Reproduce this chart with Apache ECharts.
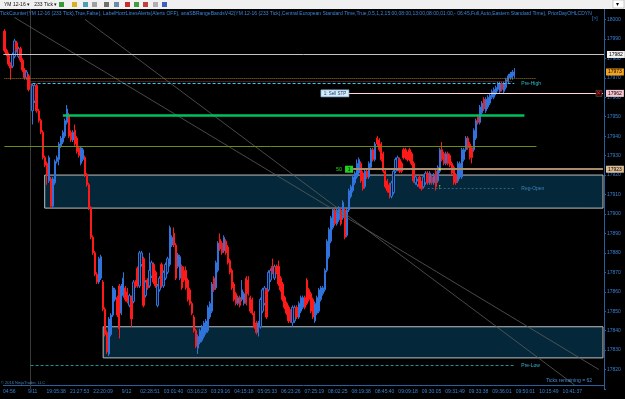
<!DOCTYPE html>
<html lang="en">
<head>
<meta charset="UTF-8">
<title>YM 12-16 (233 Tick)</title>
<script src="https://cdn.jsdelivr.net/npm/echarts@6/dist/echarts.min.js"></script>
<style>
    html, body { margin: 0; padding: 0; background: #000; }
    #chart { width: 625px; height: 399px; }
</style>
</head>
<body>
<div id="chart"></div>
<script>
// time axis labels
var tickLabels = ['04:56', '9/11', '19:05:38', '21:27:53', '22:20:09', '9/12', '02:28:51', '03:01:40',
    '03:16:23', '03:29:16', '04:15:18', '05:05:33', '06:23:26', '07:25:19', '08:02:25', '08:19:38',
    '08:45:40', '09:09:18', '09:30:05', '09:31:49', '09:33:38', '09:36:01', '09:50:01', '10:15:49', '10:41:37'];

// 233 tick bars, YM 12-16
var opens = [
    17994, 17984, 17982, 17977, 17976, 17981, 17988, 17981, 17985, 17979,
    17974, 17970, 17971, 17967, 17953, 17958, 17966, 17953, 17948, 17942,
    17929, 17926, 17917, 17918, 17904, 17916, 17927, 17928, 17935, 17937,
    17940, 17947, 17951, 17942, 17938, 17943, 17939, 17934, 17926, 17928,
    17929, 17920, 17915, 17903, 17888, 17880, 17869, 17865, 17867, 17865,
    17851, 17839, 17828, 17838, 17848, 17856, 17857, 17863, 17849, 17858,
    17862, 17860, 17853, 17857, 17855, 17865, 17872, 17863, 17874, 17877,
    17858, 17866, 17863, 17868, 17874, 17870, 17853, 17861, 17874, 17863,
    17867, 17870, 17874, 17884, 17890, 17884, 17873, 17867, 17873, 17871,
    17871, 17866, 17861, 17854, 17847, 17840, 17831, 17834, 17835, 17837,
    17839, 17840, 17847, 17850, 17867, 17862, 17871, 17887, 17885, 17881,
    17886, 17883, 17876, 17871, 17864, 17859, 17854, 17857, 17856, 17854,
    17867, 17866, 17857, 17856, 17849, 17844, 17839, 17842, 17850, 17854,
    17861, 17861, 17866, 17873, 17867, 17873, 17873, 17867, 17864, 17857,
    17854, 17852, 17850, 17844, 17845, 17852, 17847, 17850, 17852, 17857,
    17866, 17861, 17859, 17856, 17845, 17849, 17850, 17856, 17859, 17861,
    17871, 17878, 17886, 17893, 17902, 17895, 17897, 17902, 17898, 17902,
    17889, 17902, 17909, 17912, 17916, 17919, 17921, 17926, 17921, 17914,
    17922, 17919, 17924, 17933, 17928, 17939, 17938, 17936, 17931, 17922,
    17917, 17915, 17909, 17911, 17922, 17923, 17928, 17926, 17933, 17933,
    17931, 17933, 17931, 17926, 17916, 17915, 17919, 17916, 17914, 17916,
    17921, 17916, 17919, 17916, 17922, 17917, 17922, 17933, 17931, 17926,
    17931, 17930, 17926, 17924, 17920, 17917, 17919, 17919, 17928, 17933,
    17939, 17936, 17934, 17933, 17939, 17950, 17947, 17952, 17959, 17953,
    17955, 17957, 17960, 17960, 17962, 17964, 17963, 17967, 17963, 17965,
    17968, 17970, 17970, 17971
];
var closes = [
    17984, 17982, 17977, 17975, 17982, 17989, 17984, 17985, 17979, 17974,
    17970, 17973, 17964, 17965, 17966, 17966, 17953, 17948, 17942, 17929,
    17925, 17920, 17929, 17904, 17918, 17927, 17929, 17936, 17939, 17942,
    17948, 17954, 17940, 17938, 17942, 17936, 17932, 17930, 17934, 17933,
    17920, 17915, 17903, 17888, 17880, 17869, 17865, 17877, 17878, 17851,
    17838, 17829, 17846, 17848, 17862, 17861, 17848, 17841, 17863, 17867,
    17856, 17855, 17858, 17846, 17865, 17863, 17863, 17880, 17880, 17853,
    17865, 17862, 17871, 17875, 17865, 17863, 17863, 17867, 17863, 17870,
    17874, 17877, 17893, 17888, 17884, 17867, 17879, 17878, 17862, 17866,
    17862, 17856, 17854, 17849, 17840, 17832, 17837, 17840, 17842, 17844,
    17845, 17852, 17854, 17864, 17861, 17875, 17885, 17882, 17880, 17888,
    17880, 17875, 17870, 17862, 17856, 17854, 17857, 17853, 17861, 17859,
    17854, 17859, 17850, 17849, 17842, 17839, 17844, 17856, 17861, 17862,
    17847, 17870, 17871, 17870, 17873, 17870, 17864, 17861, 17856, 17852,
    17849, 17845, 17845, 17852, 17852, 17847, 17854, 17857, 17857, 17852,
    17854, 17856, 17850, 17847, 17854, 17857, 17861, 17862, 17862, 17871,
    17886, 17892, 17898, 17902, 17895, 17902, 17903, 17895, 17906, 17888,
    17902, 17912, 17914, 17919, 17921, 17926, 17928, 17917, 17913, 17922,
    17919, 17926, 17933, 17928, 17936, 17936, 17933, 17928, 17922, 17914,
    17912, 17911, 17916, 17922, 17928, 17929, 17922, 17922, 17929, 17929,
    17928, 17928, 17926, 17917, 17919, 17917, 17914, 17913, 17919, 17921,
    17916, 17921, 17916, 17920, 17914, 17924, 17933, 17928, 17926, 17931,
    17926, 17925, 17921, 17916, 17916, 17926, 17926, 17933, 17933, 17939,
    17934, 17929, 17929, 17943, 17948, 17947, 17955, 17957, 17954, 17959,
    17960, 17961, 17963, 17964, 17965, 17967, 17967, 17964, 17967, 17969,
    17971, 17972, 17973, 17973
];
var lows = [
    17983, 17981, 17976, 17969, 17975, 17980, 17983, 17980, 17978, 17973,
    17969, 17969, 17963, 17964, 17946, 17957, 17952, 17947, 17941, 17928,
    17924, 17915, 17916, 17903, 17903, 17915, 17926, 17925, 17934, 17936,
    17939, 17946, 17939, 17937, 17937, 17935, 17931, 17929, 17925, 17927,
    17919, 17914, 17902, 17887, 17879, 17868, 17864, 17864, 17866, 17850,
    17837, 17828, 17827, 17837, 17847, 17855, 17847, 17836, 17848, 17857,
    17855, 17854, 17852, 17842, 17854, 17862, 17862, 17862, 17873, 17852,
    17857, 17861, 17862, 17867, 17864, 17862, 17852, 17860, 17862, 17862,
    17866, 17869, 17873, 17883, 17883, 17866, 17872, 17866, 17861, 17865,
    17861, 17855, 17853, 17848, 17839, 17831, 17828, 17833, 17834, 17836,
    17838, 17839, 17846, 17849, 17860, 17861, 17870, 17881, 17879, 17880,
    17879, 17874, 17869, 17861, 17855, 17853, 17853, 17852, 17855, 17853,
    17853, 17858, 17849, 17848, 17841, 17838, 17837, 17841, 17849, 17853,
    17846, 17860, 17865, 17869, 17866, 17869, 17863, 17860, 17855, 17851,
    17848, 17844, 17844, 17842, 17844, 17846, 17846, 17849, 17851, 17851,
    17853, 17855, 17849, 17846, 17844, 17848, 17849, 17855, 17858, 17860,
    17870, 17877, 17885, 17892, 17894, 17894, 17896, 17894, 17897, 17887,
    17888, 17901, 17908, 17911, 17915, 17918, 17920, 17916, 17912, 17913,
    17918, 17918, 17923, 17927, 17927, 17935, 17932, 17927, 17921, 17913,
    17911, 17908, 17908, 17910, 17921, 17922, 17921, 17921, 17928, 17928,
    17927, 17927, 17925, 17916, 17915, 17914, 17913, 17912, 17913, 17915,
    17915, 17915, 17915, 17915, 17912, 17916, 17921, 17927, 17925, 17925,
    17925, 17924, 17920, 17915, 17915, 17916, 17918, 17918, 17927, 17932,
    17933, 17928, 17926, 17932, 17938, 17946, 17946, 17951, 17953, 17952,
    17954, 17956, 17959, 17959, 17961, 17963, 17962, 17963, 17962, 17964,
    17967, 17969, 17969, 17970
];
var highs = [
    17995, 17985, 17983, 17978, 17983, 17990, 17989, 17986, 17986, 17980,
    17975, 17974, 17972, 17968, 17967, 17967, 17967, 17954, 17949, 17943,
    17930, 17927, 17930, 17919, 17919, 17928, 17930, 17937, 17940, 17943,
    17949, 17956, 17952, 17943, 17943, 17946, 17940, 17935, 17935, 17934,
    17930, 17921, 17916, 17904, 17889, 17881, 17870, 17878, 17879, 17866,
    17852, 17840, 17847, 17849, 17863, 17862, 17858, 17864, 17864, 17870,
    17863, 17862, 17859, 17858, 17866, 17866, 17873, 17881, 17881, 17878,
    17866, 17867, 17880, 17876, 17875, 17871, 17864, 17868, 17875, 17871,
    17875, 17878, 17894, 17889, 17893, 17885, 17880, 17879, 17874, 17873,
    17873, 17867, 17862, 17855, 17848, 17841, 17838, 17841, 17843, 17845,
    17846, 17853, 17855, 17865, 17868, 17876, 17886, 17890, 17886, 17889,
    17887, 17884, 17877, 17872, 17865, 17860, 17858, 17858, 17866, 17860,
    17868, 17868, 17858, 17857, 17850, 17845, 17845, 17857, 17862, 17863,
    17862, 17871, 17872, 17877, 17874, 17874, 17876, 17868, 17865, 17858,
    17855, 17853, 17851, 17853, 17853, 17853, 17855, 17858, 17858, 17858,
    17867, 17862, 17860, 17857, 17855, 17858, 17862, 17863, 17863, 17872,
    17887, 17893, 17899, 17903, 17903, 17903, 17904, 17903, 17907, 17903,
    17903, 17913, 17915, 17920, 17922, 17928, 17929, 17927, 17922, 17923,
    17923, 17927, 17934, 17934, 17937, 17940, 17939, 17937, 17932, 17923,
    17918, 17916, 17917, 17923, 17929, 17930, 17929, 17927, 17934, 17934,
    17932, 17934, 17932, 17927, 17920, 17918, 17920, 17917, 17920, 17922,
    17922, 17922, 17920, 17921, 17923, 17925, 17934, 17937, 17932, 17932,
    17932, 17931, 17927, 17925, 17921, 17927, 17927, 17934, 17934, 17940,
    17940, 17937, 17935, 17944, 17949, 17951, 17956, 17958, 17960, 17960,
    17961, 17962, 17964, 17965, 17966, 17968, 17968, 17968, 17968, 17970,
    17972, 17973, 17974, 17975
];

// horizontal levels
var priorClose = 17982;
var lastPrice = 17973;
var priorOpen = 17970;
var priorMid = 17968;
var priorHigh = 17967;
var sellStop = 17962;
var bandHigh = 17951;
var bandMid = 17935;
var alertLine = 17923;
var regOpen = 17913;
var priorLow = 17822;
var upperZone = [17903, 17920];
var lowerZone = [17826, 17842];

// bar slots (bars plus empty right margin) and the time scale slots
var N = 298;
var LN = 256, STEP = 10, FIRST = 2;
var slots = [];
for (var j = 0; j < N; j++) slots.push(j);
var timeCats = [];
for (var i = 0; i < LN; i++) {
    var k = (i - FIRST) / STEP;
    timeCats.push(k >= 0 && k % 1 === 0 && k < tickLabels.length ? tickLabels[k] : '');
}
function isTick(i) {
    return i >= FIRST && (i - FIRST) % STEP === 0 && (i - FIRST) / STEP < tickLabels.length;
}

var candles = opens.map(function (o, i) {
    return [o, closes[i], lows[i], highs[i]];
});

var blue = '#3a80d2';
var axisBlue = '#2a5f9e';
var last = N - 1;

function tag(text, bg) {
    return {
        show: true, position: 'end', distance: 3, formatter: text,
        backgroundColor: bg, color: '#000', fontSize: 5, padding: [1, 2], fontFamily: 'Liberation Sans'
    };
}
function hline(x0, x1, price, style, label) {
    return [
        {coord: [x0, price], lineStyle: style, label: label || {show: false}},
        {coord: [x1, price]}
    ];
}

var chart = echarts.init(document.getElementById('chart'));
var option = {
    backgroundColor: '#000',
    animation: false,
    grid: {left: 0, right: 21, top: 0, bottom: 10},
    xAxis: [
        {
            type: 'category',
            data: slots,
            boundaryGap: true,
            show: false
        },
        {
            type: 'category',
            data: timeCats,
            boundaryGap: true,
            position: 'bottom',
            offset: -3.3,
            axisLine: {lineStyle: {color: axisBlue}},
            axisTick: {interval: function (i) { return isTick(i); }, alignWithLabel: true, length: 3,
                lineStyle: {color: axisBlue}},
            axisLabel: {interval: function (i) { return isTick(i); }, color: blue, fontSize: 5, margin: 3,
                fontFamily: 'Liberation Sans'},
            splitLine: {show: false}
        }
    ],
    yAxis: {
        type: 'value',
        position: 'right',
        min: 17810,
        max: 18010,
        interval: 10,
        axisLine: {show: true, lineStyle: {color: axisBlue}},
        axisTick: {show: true, length: 2, lineStyle: {color: axisBlue}},
        axisLabel: {
            color: blue, fontSize: 5, margin: 3, fontFamily: 'Liberation Sans',
            formatter: function (v) { return (v <= 17810 || v >= 18010) ? '' : String(v); }
        },
        splitLine: {show: false}
    },
    series: [
        {
            // drawing objects: zones, lines, tags
            type: 'line',
            data: [],
            silent: true,
            markArea: {
                silent: true,
                itemStyle: {color: '#04283a', borderColor: '#bfbfbf', borderWidth: 1},
                data: [
                    [{coord: [20, upperZone[1]]}, {coord: [last, upperZone[0]]}],
                    [{coord: [49, lowerZone[1]]}, {coord: [last, lowerZone[0]]}]
                ]
            },
            markLine: {
                silent: true,
                symbol: 'none',
                animation: false,
                data: [
                    {xAxis: 13, lineStyle: {color: '#3a3a3a', width: 1, type: 'solid'}, label: {show: false}},
                    [{coord: [5, 18001], lineStyle: {color: '#5c5c5c', width: 0.8, type: 'solid'}, label: {show: false}},
                        {coord: [295, 17820]}],
                    [{coord: [40, 18000], lineStyle: {color: '#5c5c5c', width: 0.8, type: 'solid'}, label: {show: false}},
                        {coord: [283, 17812]}],
                    {yAxis: priorClose, lineStyle: {color: '#c4c4c4', width: 1, type: 'solid'},
                        label: tag(String(priorClose), '#f2f2f2')},
                    hline(0, 264, priorOpen, {color: '#9a7a1c', width: 1, type: 'dotted'}),
                    hline(13, 252, priorMid, {color: '#a83030', width: 1, type: 'dotted'}),
                    hline(14, 253, priorHigh, {color: '#22d4e6', width: 1, type: [3, 2]},
                        {show: true, position: 'end', distance: 7, formatter: 'Pre-High', color: '#33b8cc',
                            fontSize: 5, fontFamily: 'Liberation Sans'}),
                    hline(171, last, sellStop, {color: '#ffd4dc', width: 1, type: 'solid'},
                        tag(String(sellStop), '#f6c6d0')),
                    hline(29, 258, bandHigh, {color: '#00c060', width: 2.5, type: 'solid'}),
                    hline(0, 264, bandMid, {color: '#6a8c14', width: 1, type: 'solid'}),
                    hline(173, last, alertLine, {color: '#a88c6c', width: 2, type: 'solid'},
                        tag(String(alertLine), '#dcbc94')),
                    hline(210, 253, regOpen, {color: '#2f5f8f', width: 1, type: [2, 2]},
                        {show: true, position: 'end', distance: 7, formatter: 'Reg-Open', color: '#3d84b8',
                            fontSize: 5, fontFamily: 'Liberation Sans'}),
                    hline(13, 253, priorLow, {color: '#1f8f9a', width: 1, type: [3, 2]},
                        {show: true, position: 'end', distance: 7, formatter: 'Pre-Low', color: '#33b8cc',
                            fontSize: 5, fontFamily: 'Liberation Sans'}),
                    hline(last - 1, last, lastPrice, {color: 'rgba(0,0,0,0)', width: 1, type: 'solid'},
                        tag(String(lastPrice), '#f2a21e'))
                ]
            },
            markPoint: {
                silent: true,
                animation: false,
                data: [
                    {coord: [164, sellStop], symbol: 'rect', symbolSize: [28, 7],
                        itemStyle: {color: '#d4ecfa', borderColor: '#8ab4d8', borderWidth: 0.5},
                        label: {show: true, formatter: '1: Sell STP', color: '#1c3d6e', fontSize: 4.5,
                            fontFamily: 'Liberation Sans'}},
                    {coord: [171, alertLine], symbol: 'rect', symbolSize: [8, 7],
                        itemStyle: {color: '#22d022'},
                        label: {show: true, formatter: '1', color: '#000', fontSize: 5}},
                    {coord: [166, alertLine], symbol: 'rect', symbolSize: [1, 1], itemStyle: {color: 'transparent'},
                        label: {show: true, formatter: '50', color: '#22d022', fontSize: 5.5}},
                    {coord: [295, sellStop], symbol: 'rect', symbolSize: [6, 6],
                        itemStyle: {color: '#3a0000', borderColor: '#666', borderWidth: 0.5},
                        label: {show: true, formatter: '✕', color: '#ff2020', fontSize: 6}},
                    {coord: [216, regOpen + 1], symbol: 'rect', symbolSize: [1, 1], itemStyle: {color: 'transparent'},
                        label: {show: true, formatter: '↑', color: '#b4ff3c', fontSize: 7, fontWeight: 'bold'}},
                    {coord: [216, alertLine], symbol: 'rect', symbolSize: [2, 2], itemStyle: {color: '#d4e830'},
                        label: {show: false}}
                ]
            },
            z: 1
        },
        {
            type: 'candlestick',
            data: candles,
            barWidth: 1.8,
            itemStyle: {
                color: '#06142c',
                color0: '#ff1a1a',
                borderColor: '#3173dc',
                borderColor0: '#ff1a1a',
                borderWidth: 1
            },
            z: 3
        }
    ],
    graphic: [
        {type: 'rect', shape: {x: 0, y: 0, width: 625, height: 9}, style: {fill: '#f0f0f0'}, z: 100},
        {type: 'text', x: 4, y: 2, z: 101, style: {text: 'YM 12-16 ▾   233 Tick ▾', fill: '#111', fontSize: 5,
                fontFamily: 'Liberation Sans'}},
        {type: 'rect', shape: {x: 59, y: 2, width: 5, height: 5}, style: {fill: '#3a9a3a'}, z: 101},
        {type: 'rect', shape: {x: 72, y: 2, width: 5, height: 5}, style: {fill: '#d8b020'}, z: 101},
        {type: 'rect', shape: {x: 83, y: 2, width: 5, height: 5}, style: {fill: '#4aa0b0'}, z: 101},
        {type: 'rect', shape: {x: 92, y: 2, width: 5, height: 5}, style: {fill: '#a0a0a0'}, z: 101},
        {type: 'rect', shape: {x: 104, y: 2, width: 5, height: 5}, style: {fill: '#707070'}, z: 101},
        {type: 'rect', shape: {x: 114, y: 2, width: 5, height: 5}, style: {fill: '#6a8ab0'}, z: 101},
        {type: 'rect', shape: {x: 125, y: 2, width: 5, height: 5}, style: {fill: '#c83030'}, z: 101},
        {type: 'rect', shape: {x: 134, y: 2, width: 5, height: 5}, style: {fill: '#40a040'}, z: 101},
        {type: 'rect', shape: {x: 143, y: 2, width: 5, height: 5}, style: {fill: '#c04040'}, z: 101},
        {type: 'rect', shape: {x: 153, y: 2, width: 5, height: 5}, style: {fill: '#b0b0b0'}, z: 101},
        {type: 'rect', shape: {x: 162, y: 2, width: 5, height: 5}, style: {fill: '#4060c0'}, z: 101},
        {type: 'rect', shape: {x: 613, y: 0, width: 11, height: 8}, style: {fill: '#fff', stroke: '#999', lineWidth: 0.5}, z: 101},
        {type: 'text', x: 616, y: 1, z: 102, style: {text: '▾', fill: '#000', fontSize: 6}},
        {type: 'text', x: 0, y: 11.5, z: 101, style: {
                text: 'TickCounter(YM 12-16 (233 Tick),True,False), LabelHorzLinesAlerts(Alerts OFF), anaSBRangeBandsV42(YM 12-16 (233 Tick),Central European Standard Time,True,0.5,1,2,15:00,08:00,13:00,08:00,01:00,- 06:45,Full,Auto,Eastern Standard Time), PriorDayOHLCDYN',
                fill: '#3a86d8', fontSize: 5, fontFamily: 'Liberation Sans'}},
        {type: 'text', x: 592, y: 16, z: 101, style: {text: '[>]', fill: '#3a86d8', fontSize: 5,
                fontFamily: 'Liberation Sans'}},
        {type: 'text', x: 1, y: 381, z: 101, style: {text: '© 2016 NinjaTrader, LLC', fill: '#4a7fb8', fontSize: 4,
                fontFamily: 'Liberation Sans'}},
        {type: 'text', x: 546, y: 378.5, z: 101, style: {text: 'Ticks remaining = 62', fill: '#4a8ad0', fontSize: 5,
                fontFamily: 'Liberation Sans'}}
    ]
};
chart.setOption(option);
</script>
</body>
</html>
